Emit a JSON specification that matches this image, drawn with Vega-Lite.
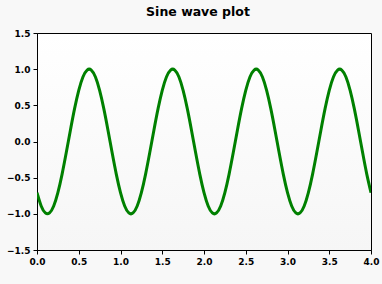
{
  "$schema": "https://vega.github.io/schema/vega-lite/v6.json",
  "width": 334,
  "height": 217,
  "autosize": {"type": "none"},
  "padding": {"left": 37, "top": 33, "right": 11, "bottom": 34},
  "background": "#f8f8f8",
  "title": {"text": "Sine wave plot", "font": "DejaVu Sans", "fontSize": 12.5, "fontWeight": "bold", "color": "black", "anchor": "middle", "dx": -6, "offset": 11},
  "config": {
    "view": {"stroke": "black", "strokeWidth": 1, "fill": {"gradient": "linear", "x1": 0, "y1": 0, "x2": 0, "y2": 1, "stops": [{"offset": 0, "color": "#ffffff"}, {"offset": 1, "color": "#f6f6f6"}]}},
    "axis": {"labelFont": "DejaVu Sans", "labelFontSize": 9, "labelFontWeight": "bold", "labelColor": "black", "domainColor": "black", "tickColor": "black", "tickSize": 4, "labelPadding": 3, "grid": false, "title": null, "labelFlush": false, "labelOverlap": false}
  },
  "data": {"values": [
    {"x": 0.00, "y": -0.7071}, {"x": 0.05, "y": -0.8910}, {"x": 0.10, "y": -0.9877}, {"x": 0.15, "y": -0.9877}, {"x": 0.20, "y": -0.8910},
    {"x": 0.25, "y": -0.7071}, {"x": 0.30, "y": -0.4540}, {"x": 0.35, "y": -0.1564}, {"x": 0.40, "y": 0.1564}, {"x": 0.45, "y": 0.4540},
    {"x": 0.50, "y": 0.7071}, {"x": 0.55, "y": 0.8910}, {"x": 0.60, "y": 0.9877}, {"x": 0.65, "y": 0.9877}, {"x": 0.70, "y": 0.8910},
    {"x": 0.75, "y": 0.7071}, {"x": 0.80, "y": 0.4540}, {"x": 0.85, "y": 0.1564}, {"x": 0.90, "y": -0.1564}, {"x": 0.95, "y": -0.4540},
    {"x": 1.00, "y": -0.7071}, {"x": 1.05, "y": -0.8910}, {"x": 1.10, "y": -0.9877}, {"x": 1.15, "y": -0.9877}, {"x": 1.20, "y": -0.8910},
    {"x": 1.25, "y": -0.7071}, {"x": 1.30, "y": -0.4540}, {"x": 1.35, "y": -0.1564}, {"x": 1.40, "y": 0.1564}, {"x": 1.45, "y": 0.4540},
    {"x": 1.50, "y": 0.7071}, {"x": 1.55, "y": 0.8910}, {"x": 1.60, "y": 0.9877}, {"x": 1.65, "y": 0.9877}, {"x": 1.70, "y": 0.8910},
    {"x": 1.75, "y": 0.7071}, {"x": 1.80, "y": 0.4540}, {"x": 1.85, "y": 0.1564}, {"x": 1.90, "y": -0.1564}, {"x": 1.95, "y": -0.4540},
    {"x": 2.00, "y": -0.7071}, {"x": 2.05, "y": -0.8910}, {"x": 2.10, "y": -0.9877}, {"x": 2.15, "y": -0.9877}, {"x": 2.20, "y": -0.8910},
    {"x": 2.25, "y": -0.7071}, {"x": 2.30, "y": -0.4540}, {"x": 2.35, "y": -0.1564}, {"x": 2.40, "y": 0.1564}, {"x": 2.45, "y": 0.4540},
    {"x": 2.50, "y": 0.7071}, {"x": 2.55, "y": 0.8910}, {"x": 2.60, "y": 0.9877}, {"x": 2.65, "y": 0.9877}, {"x": 2.70, "y": 0.8910},
    {"x": 2.75, "y": 0.7071}, {"x": 2.80, "y": 0.4540}, {"x": 2.85, "y": 0.1564}, {"x": 2.90, "y": -0.1564}, {"x": 2.95, "y": -0.4540},
    {"x": 3.00, "y": -0.7071}, {"x": 3.05, "y": -0.8910}, {"x": 3.10, "y": -0.9877}, {"x": 3.15, "y": -0.9877}, {"x": 3.20, "y": -0.8910},
    {"x": 3.25, "y": -0.7071}, {"x": 3.30, "y": -0.4540}, {"x": 3.35, "y": -0.1564}, {"x": 3.40, "y": 0.1564}, {"x": 3.45, "y": 0.4540},
    {"x": 3.50, "y": 0.7071}, {"x": 3.55, "y": 0.8910}, {"x": 3.60, "y": 0.9877}, {"x": 3.65, "y": 0.9877}, {"x": 3.70, "y": 0.8910},
    {"x": 3.75, "y": 0.7071}, {"x": 3.80, "y": 0.4540}, {"x": 3.85, "y": 0.1564}, {"x": 3.90, "y": -0.1564}, {"x": 3.95, "y": -0.4540},
    {"x": 4.00, "y": -0.7071}
  ]},
  "mark": {"type": "line", "color": "#008000", "strokeWidth": 3, "interpolate": "natural", "clip": true},
  "encoding": {
    "x": {"field": "x", "type": "quantitative", "scale": {"domain": [0, 4], "nice": false}, "axis": {"values": [0, 0.5, 1, 1.5, 2, 2.5, 3, 3.5, 4], "format": ".1f"}},
    "y": {"field": "y", "type": "quantitative", "scale": {"domain": [-1.5, 1.5], "nice": false, "zero": false}, "axis": {"values": [-1.5, -1, -0.5, 0, 0.5, 1, 1.5], "format": ".1f"}}
  }
}
